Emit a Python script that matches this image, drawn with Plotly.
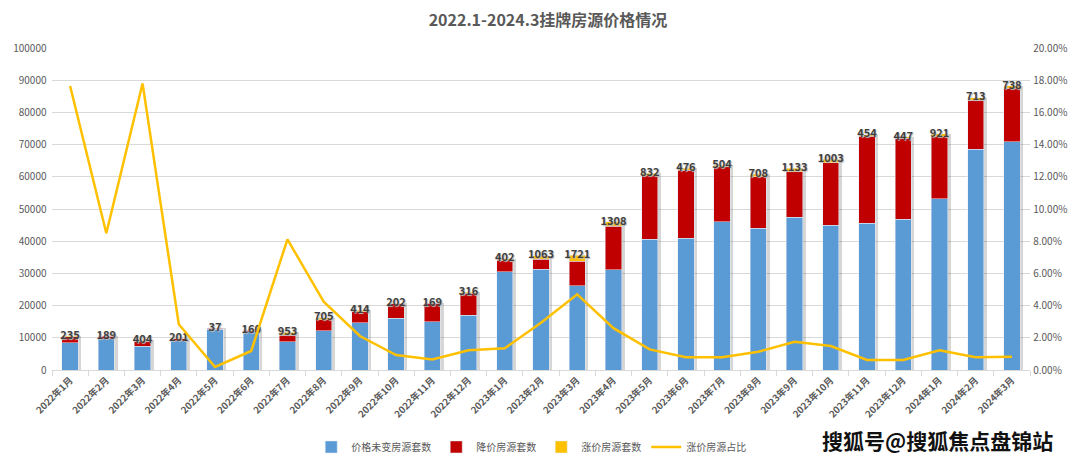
import plotly.graph_objects as go

months = ["2022年1月","2022年2月","2022年3月","2022年4月","2022年5月","2022年6月","2022年7月","2022年8月",
          "2022年9月","2022年10月","2022年11月","2022年12月","2023年1月","2023年2月","2023年3月","2023年4月",
          "2023年5月","2023年6月","2023年7月","2023年8月","2023年9月","2023年10月","2023年11月","2023年12月",
          "2024年1月","2024年2月","2024年3月"]
unchanged = [8480, 9630, 7450, 9100, 12730, 11890, 8790, 12200, 14690, 16060, 15000, 17080, 30530, 31270,
             26090, 31060, 40590, 40900, 46060, 44100, 47420, 44940, 45560, 46800, 53110, 68630, 70900]
reduced = [1860, 800, 1460, 530, 300, 400, 1990, 3330, 3410, 4440, 5710, 6740, 3630, 3200,
           7760, 13660, 19660, 21210, 17080, 15930, 14160, 19440, 27110, 25160, 19340, 15220, 16580]
raised = [235, 189, 404, 201, 37, 160, 953, 705, 414, 202, 169, 316, 402, 1063,
          1721, 1308, 832, 476, 504, 708, 1133, 1003, 454, 447, 921, 713, 738]
raised_ratio = [0.1764, 0.0849, 0.1780, 0.0284, 0.0019, 0.0118, 0.0812, 0.0424, 0.0211, 0.0093, 0.0066, 0.0122,
                0.0135, 0.0294, 0.0470, 0.0260, 0.0128, 0.0079, 0.0079, 0.0113, 0.0175, 0.0149, 0.0062, 0.0062,
                0.0122, 0.0079, 0.0083]

totals = [a + b + c for a, b, c in zip(unchanged, reduced, raised)]

FONT = "Noto Sans CJK SC"
GREY = "#595959"
N = len(months)
SHIFT = 0.085

fig = go.Figure()
# drop shadow behind the stacked bars (base subplot, drawn first)
fig.add_trace(go.Bar(x=months, y=totals, xaxis="x", yaxis="y", marker_color="rgba(0,0,0,0.16)",
                     marker_line_width=0, showlegend=False, hoverinfo="skip"))
fig.add_trace(go.Bar(x=months, y=unchanged, name="价格未变房源套数", marker_color="#5B9BD5",
                     xaxis="x2", yaxis="y"))
fig.add_trace(go.Bar(x=months, y=reduced, name="降价房源套数", marker_color="#C00000",
                     xaxis="x2", yaxis="y"))
fig.add_trace(go.Bar(x=months, y=raised, name="涨价房源套数", marker_color="#FFC000",
                     xaxis="x2", yaxis="y"))
fig.add_trace(go.Scatter(x=months, y=raised_ratio, name="涨价房源占比", xaxis="x2", yaxis="y2", mode="lines",
                         line=dict(color="#FFC000", width=2.5)))
fig.add_trace(go.Scatter(x=months, y=totals, mode="text", text=[str(v) for v in raised], xaxis="x2", yaxis="y",
                         textposition="middle center", showlegend=False, hoverinfo="skip",
                         textfont=dict(family=FONT, size=11, color="#404040", weight=600,
                                       shadow="1px 1px 1px #bbbbbb")))

fig.update_layout(
    width=1080, height=465,
    barmode="stack", bargap=0.55,
    plot_bgcolor="white", paper_bgcolor="white",
    margin=dict(l=44, r=58, t=40, b=103, autoexpand=False),
    font=dict(family=FONT, color=GREY, size=10),
    title=dict(text="<b>2022.1-2024.3挂牌房源价格情况</b>", x=0.5, xanchor="center", y=0.974, yanchor="middle",
               font=dict(family=FONT, size=16, color=GREY)),
    xaxis=dict(visible=False, range=[-0.5 - SHIFT, N - 0.5 - SHIFT], automargin=False),
    xaxis2=dict(overlaying="x", anchor="y", side="bottom", tickangle=-45,
                tickfont=dict(size=9.5, color=GREY, weight=600), showline=True,
                linecolor="#D9D9D9", ticks="outside", ticklen=5, tickcolor="#D9D9D9", tickson="boundaries",
                showgrid=False, automargin=False, range=[-0.5, N - 0.5]),
    yaxis=dict(range=[0, 100000], dtick=10000, tickformat="d", gridcolor="#D9D9D9",
               tickfont=dict(size=10, color=GREY), zeroline=False, ticksuffix="  ", automargin=False),
    yaxis2=dict(range=[0, 0.2], dtick=0.02, tickformat=".2%", overlaying="y", anchor="x2", side="right",
                showgrid=False, tickfont=dict(size=10, color=GREY), zeroline=False, automargin=False,
                tickprefix=" "),
    legend=dict(orientation="h", x=0.49, xanchor="center", y=-0.239, yanchor="middle",
                font=dict(size=10, color=GREY), traceorder="normal"),
    showlegend=True,
)
fig.add_annotation(text="<b>搜狐号@搜狐焦点盘锦站</b>", xref="paper", yref="paper", x=1.0256, y=-0.217,
                   xanchor="right", yanchor="middle", showarrow=False,
                   font=dict(family=FONT, size=21, color="#111111"))

fig.write_html("out.html")
